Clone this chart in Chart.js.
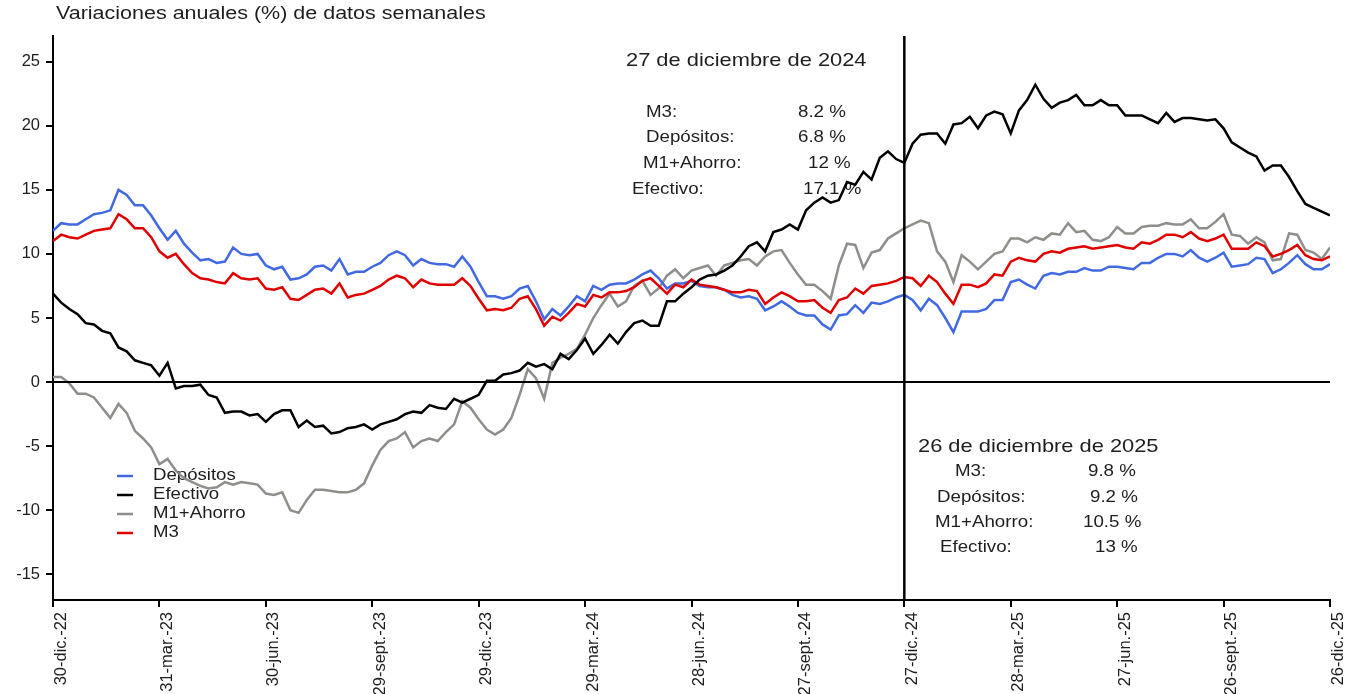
<!DOCTYPE html>
<html>
<head>
<meta charset="utf-8">
<script src="https://cdn.jsdelivr.net/npm/chart.js@4.4.1/dist/chart.umd.min.js"></script>
<style>
  body { margin: 0; background: #fff; }
  #box { width: 1357px; height: 694px; }
</style>
</head>
<body>
<div id="box"><canvas id="grafico" width="1357" height="694"></canvas></div>
<script>
// etiquetas del eje (una cada 13 semanas)
var tickLabels = ["30-dic.-22", "31-mar.-23", "30-jun.-23", "29-sept.-23", "29-dic.-23", "29-mar.-24",
    "28-jun.-24", "27-sept.-24", "27-dic.-24", "28-mar.-25", "27-jun.-25", "26-sept.-25", "26-dic.-25"];

// variaciones anuales semanales (%)
var depositos = [11.8, 12.4, 12.3, 12.3, 12.7, 13.1, 13.2, 13.4, 15.0, 14.6, 13.8, 13.8, 13.0,
    12.0, 11.1, 11.8, 10.8, 10.1, 9.5, 9.6, 9.3, 9.4, 10.5, 10.0, 9.9, 10.0,
    9.1, 8.8, 9.0, 8.0, 8.1, 8.4, 9.0, 9.1, 8.7, 9.6, 8.4, 8.6, 8.6,
    9.0, 9.3, 9.9, 10.2, 9.9, 9.1, 9.6, 9.3, 9.2, 9.2, 9.0, 9.8, 9.0,
    7.8, 6.7, 6.7, 6.5, 6.7, 7.3, 7.5, 6.3, 4.9, 5.7, 5.2, 5.9, 6.7,
    6.3, 7.5, 7.2, 7.6, 7.7, 7.7, 8.0, 8.4, 8.7, 8.1, 7.3, 7.7, 7.7,
    7.9, 7.5, 7.4, 7.4, 7.2, 6.8, 6.6, 6.7, 6.5, 5.6, 5.9, 6.3, 5.9,
    5.4, 5.2, 5.2, 4.5, 4.1, 5.2, 5.3, 6.0, 5.4, 6.2, 6.1, 6.3, 6.6,
    6.8, 6.4, 5.6, 6.5, 6.0, 5.0, 3.9, 5.5, 5.5, 5.5, 5.7, 6.4, 6.4,
    7.8, 8.0, 7.6, 7.3, 8.3, 8.5, 8.4, 8.6, 8.6, 8.9, 8.7, 8.7, 9.0,
    9.0, 8.9, 8.8, 9.3, 9.3, 9.7, 10.0, 10.0, 9.8, 10.3, 9.7, 9.4, 9.7,
    10.1, 9.0, 9.1, 9.2, 9.7, 9.6, 8.5, 8.8, 9.3, 9.9, 9.2, 8.8, 8.8,
    9.2];

var efectivo = [6.9, 6.2, 5.7, 5.3, 4.6, 4.5, 4.0, 3.8, 2.7, 2.4, 1.7, 1.5, 1.3,
    0.5, 1.5, -0.5, -0.3, -0.3, -0.2, -1.0, -1.2, -2.4, -2.3, -2.3, -2.6, -2.5,
    -3.1, -2.5, -2.2, -2.2, -3.5, -3.0, -3.5, -3.4, -4.0, -3.9, -3.6, -3.5, -3.3,
    -3.7, -3.3, -3.1, -2.9, -2.5, -2.3, -2.4, -1.8, -2.0, -2.1, -1.3, -1.6, -1.3,
    -1.0, 0.1, 0.1, 0.6, 0.7, 0.9, 1.5, 1.2, 1.4, 1.0, 2.2, 1.8, 2.5,
    3.4, 2.2, 2.9, 3.7, 3.0, 3.9, 4.6, 4.8, 4.4, 4.4, 6.3, 6.3,
    6.9, 7.4, 8.0, 8.3, 8.4, 8.7, 9.1, 9.8, 10.6, 10.9, 10.2, 11.7, 11.9,
    12.3, 11.9, 13.4, 14.0, 14.4, 14.0, 14.2, 15.6, 15.4, 16.4, 15.8, 17.5, 18.0,
    17.4, 17.1, 18.6, 19.3, 19.4, 19.4, 18.6, 20.1, 20.2, 20.7, 19.8, 20.8, 21.1,
    20.9, 19.4, 21.2, 22.0, 23.2, 22.1, 21.4, 21.8, 22.0, 22.4, 21.6, 21.6,
    22.0, 21.6, 21.6, 20.8, 20.8, 20.8, 20.5, 20.2, 21.0, 20.3, 20.6, 20.6, 20.5,
    20.4, 20.5, 19.8, 18.7, 18.3, 17.9, 17.6, 16.5, 16.9, 16.9, 16.0, 14.9, 13.9,
    13.6, 13.3, 13.0];

var m1Ahorro = [0.4, 0.4, -0.1, -0.9, -0.9, -1.2, -2.0, -2.8, -1.7, -2.4, -3.8, -4.4, -5.1,
    -6.4, -6.0, -6.9, -7.5, -7.8, -8.1, -8.3, -8.2, -7.8, -8.0, -7.8, -7.9, -8.0,
    -8.7, -8.8, -8.6, -10.0, -10.2, -9.2, -8.4, -8.4, -8.5, -8.6, -8.6, -8.4, -7.9,
    -6.5, -5.3, -4.6, -4.4, -3.9, -5.1, -4.6, -4.4, -4.6, -3.9, -3.3, -1.5, -2.0,
    -2.9, -3.7, -4.1, -3.7, -2.8, -1.0, 1.0, 0.3, -1.3, 1.5, 1.9, 2.2, 2.6,
    3.7, 5.0, 6.0, 6.9, 5.9, 6.3, 7.5, 7.9, 6.8, 7.3, 8.3, 8.8,
    8.1, 8.7, 8.9, 9.1, 8.3, 9.1, 9.3, 9.5, 9.6, 9.1, 9.8, 10.2, 10.3,
    9.3, 8.4, 7.6, 7.6, 7.1, 6.5, 9.1, 10.8, 10.7, 8.9, 10.1, 10.3, 11.2,
    11.6, 12.0, 12.3, 12.6, 12.4, 10.2, 9.4, 7.8, 9.9, 9.4, 8.8, 9.4, 10.0,
    10.2, 11.2, 11.2, 10.9, 11.3, 11.1, 11.6, 11.5, 12.4, 11.7, 11.8, 11.1,
    11.0, 11.3, 12.1, 11.6, 11.6, 12.1, 12.2, 12.2, 12.4, 12.3, 12.3, 12.7, 12.0,
    12.0, 12.5, 13.1, 11.5, 11.4, 10.8, 11.3, 10.9, 9.5, 9.6, 11.6, 11.5, 10.3,
    10.1, 9.6, 10.5];

var m3 = [11.0, 11.5, 11.3, 11.2, 11.5, 11.8, 11.9, 12.0, 13.1, 12.7, 12.0, 12.0, 11.3,
    10.2, 9.7, 10.0, 9.2, 8.5, 8.1, 8.0, 7.8, 7.7, 8.5, 8.1, 8.0, 8.1,
    7.3, 7.2, 7.4, 6.5, 6.4, 6.8, 7.2, 7.3, 6.9, 7.7, 6.6, 6.8, 6.9,
    7.2, 7.5, 8.0, 8.3, 8.1, 7.4, 8.0, 7.7, 7.6, 7.6, 7.6, 8.1, 7.5,
    6.5, 5.6, 5.7, 5.6, 5.8, 6.5, 6.7, 5.7, 4.4, 5.1, 4.8, 5.4, 6.1,
    5.9, 6.8, 6.6, 7.0, 7.0, 7.1, 7.4, 7.9, 8.1, 7.5, 6.9, 7.6,
    7.4, 8.0, 7.6, 7.5, 7.4, 7.2, 7.0, 7.0, 7.2, 7.1, 6.1, 6.6, 7.0,
    6.7, 6.3, 6.3, 6.4, 5.8, 5.4, 6.4, 6.6, 7.3, 6.9, 7.5, 7.6, 7.7,
    7.9, 8.2, 8.1, 7.5, 8.3, 7.8, 6.9, 6.1, 7.6, 7.6, 7.4, 7.7, 8.4,
    8.3, 9.4, 9.7, 9.5, 9.4, 10.0, 10.2, 10.1, 10.4, 10.5, 10.6, 10.4,
    10.5, 10.6, 10.7, 10.5, 10.4, 10.9, 10.8, 11.1, 11.5, 11.5, 11.3, 11.7, 11.2,
    11.0, 11.2, 11.5, 10.4, 10.4, 10.4, 10.9, 10.6, 9.8, 10.0, 10.3, 10.7, 9.9,
    9.6, 9.5, 9.8];

// recuadros de texto
var notaNombres = ["M3:", "Depósitos:", "M1+Ahorro:", "Efectivo:"];
var nota2024 = ["8.2 %", "6.8 %", "12 %", "17.1 %"];
var nota2025 = ["9.8 %", "9.2 %", "10.5 %", "13 %"];
var semanaMarca = 104; // 27-dic-24

var colores = {
    depositos: "#4169e1",
    efectivo: "#000000",
    m1Ahorro: "#8e8e8a",
    m3: "#e00000"
};

function toPoints(arr)
{
    var pts = [];
    for (var i = 0; i < arr.length; i++)
    {
        pts.push({x: i, y: arr[i]});
    }
    return pts;
}

var FONT = '"Liberation Sans", Arial, sans-serif';

function stretchText(ctx, text, x, y, size, align)
{
    ctx.save();
    ctx.translate(x, y);
    ctx.scale(1.15, 1);
    ctx.font = size + "px " + FONT;
    ctx.fillStyle = "#1e1e1e";
    ctx.textAlign = align || "left";
    ctx.textBaseline = "middle";
    ctx.fillText(text, 0, 0);
    ctx.restore();
}

var textosPlugin = {
    id: "textos",
    beforeDatasetsDraw: function (chart) {
        var ctx = chart.ctx;
        stretchText(ctx, "Variaciones anuales (%) de datos semanales", 56, 14, 18.7);

        // recuadro 2024
        stretchText(ctx, "27 de diciembre de 2024", 626, 61, 19);
        var nx2024 = [646, 646, 643, 632];
        var vx2024 = [798, 798, 808, 803];
        var ny2024 = [113, 138, 164, 190];
        for (var i = 0; i < 4; i++)
        {
            stretchText(ctx, notaNombres[i], nx2024[i], ny2024[i], 16.3);
            stretchText(ctx, nota2024[i], vx2024[i], ny2024[i], 16.3);
        }

        // recuadro 2025
        stretchText(ctx, "26 de diciembre de 2025", 918, 447, 19);
        var nx2025 = [955, 937, 935, 940];
        var vx2025 = [1088, 1090, 1083, 1095];
        var ny2025 = [472, 498, 523, 548];
        for (var j = 0; j < 4; j++)
        {
            stretchText(ctx, notaNombres[j], nx2025[j], ny2025[j], 16.3);
            stretchText(ctx, nota2025[j], vx2025[j], ny2025[j], 16.3);
        }

        // leyenda
        var items = [
            ["Depósitos", colores.depositos],
            ["Efectivo", colores.efectivo],
            ["M1+Ahorro", colores.m1Ahorro],
            ["M3", colores.m3]
        ];
        for (var k = 0; k < items.length; k++)
        {
            var ly = 476 + k * 19;
            ctx.save();
            ctx.strokeStyle = items[k][1];
            ctx.lineWidth = 2.5;
            ctx.beginPath();
            ctx.moveTo(117, ly);
            ctx.lineTo(133, ly);
            ctx.stroke();
            ctx.restore();
            stretchText(ctx, items[k][0], 153, ly, 16.2);
        }
    },
    afterDatasetsDraw: function (chart) {
        var ctx = chart.ctx;
        var area = chart.chartArea;
        var xs = chart.scales.x;
        var ys = chart.scales.y;
        ctx.save();
        ctx.strokeStyle = "#000";
        // linea del cero
        ctx.lineWidth = 2;
        var y0 = ys.getPixelForValue(0);
        ctx.beginPath();
        ctx.moveTo(area.left, y0);
        ctx.lineTo(area.right, y0);
        ctx.stroke();
        // linea vertical 27-dic-24
        ctx.lineWidth = 2.5;
        var xm = xs.getPixelForValue(semanaMarca);
        ctx.beginPath();
        ctx.moveTo(xm, area.top);
        ctx.lineTo(xm, area.bottom);
        ctx.stroke();
        ctx.restore();
    }
};

function serie(label, data, color)
{
    return {
        label: label,
        data: toPoints(data),
        borderColor: color,
        backgroundColor: color,
        borderWidth: 2.5,
        pointRadius: 0,
        tension: 0,
        fill: false
    };
}

Chart.defaults.font.family = FONT;
Chart.defaults.color = "#1e1e1e";

var grafico = new Chart(document.getElementById("grafico"), {
    type: "line",
    data: {
        datasets: [
            serie("Efectivo", efectivo, colores.efectivo),
            serie("M3", m3, colores.m3),
            serie("Depósitos", depositos, colores.depositos),
            serie("M1+Ahorro", m1Ahorro, colores.m1Ahorro)
        ]
    },
    options: {
        responsive: false,
        animation: false,
        devicePixelRatio: 1,
        layout: {
            padding: {top: 36, right: 27, left: 0, bottom: 0}
        },
        plugins: {
            legend: {display: false},
            title: {display: false},
            tooltip: {enabled: false}
        },
        scales: {
            x: {
                type: "linear",
                min: 0,
                max: 156,
                border: {color: "#000", width: 2},
                grid: {drawOnChartArea: false, drawTicks: true, tickLength: 7, color: "#000", lineWidth: 2},
                ticks: {
                    stepSize: 13,
                    autoSkip: false,
                    maxRotation: 90,
                    minRotation: 90,
                    padding: 5,
                    labelOffset: 8,
                    font: {size: 16.5},
                    callback: function (value) {
                        return tickLabels[Math.round(value / 13)];
                    }
                },
                afterFit: function (scale) {
                    scale.height = 94;
                }
            },
            y: {
                type: "linear",
                min: -17,
                max: 27,
                border: {color: "#000", width: 2},
                grid: {drawOnChartArea: false, drawTicks: true, tickLength: 7, color: "#000", lineWidth: 2},
                ticks: {
                    stepSize: 5,
                    includeBounds: false,
                    padding: 6,
                    font: {size: 16.5}
                },
                afterFit: function (scale) {
                    scale.width = 53;
                }
            }
        }
    },
    plugins: [textosPlugin]
});
</script>
</body>
</html>
